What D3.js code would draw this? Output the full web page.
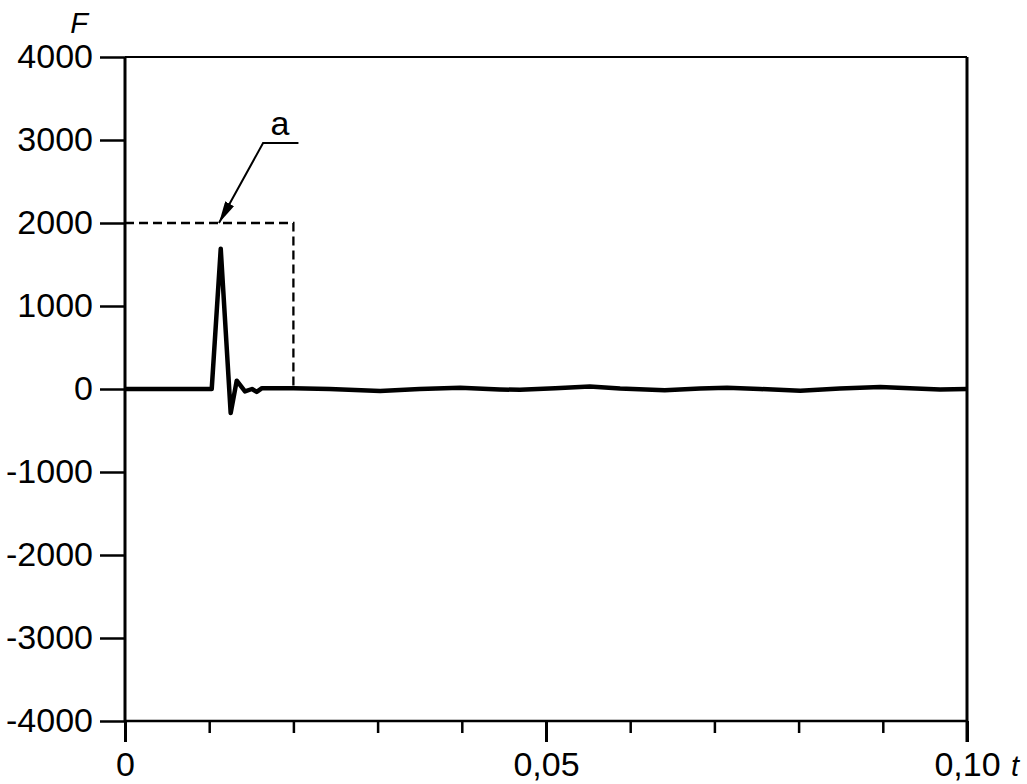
<!DOCTYPE html>
<html>
<head>
<meta charset="utf-8">
<script src="https://cdn.jsdelivr.net/npm/d3@7"></script>
<style>
  body { margin: 0; background: #fff; }
  svg text { font-family: "Liberation Sans", Arial, sans-serif; fill: #000; }
</style>
</head>
<body>
<script>
// force signal F(t)
const tValues = [0, 0.0050, 0.0103, 0.01137, 0.01255, 0.01327, 0.01425, 0.01508, 0.01564, 0.01627,
  0.0200, 0.0243, 0.0303, 0.0350, 0.0398, 0.0445, 0.0469, 0.0511, 0.0552, 0.0588,
  0.0641, 0.0683, 0.0715, 0.0754, 0.0802, 0.0849, 0.0897, 0.0932, 0.0968, 0.1000];
const fValues = [0, 0, 0, 1690, -290, 100, -30, 0, -35, 10,
  10, 0, -25, 0, 15, -5, -10, 10, 30, 5,
  -15, 5, 15, 0, -20, 5, 25, 10, -5, 0];

// dashed limit "a"
const limitT = [0, 0.02, 0.02];
const limitF = [2000, 2000, 0];

// label "a" leader: arrow tip, knee, end
const leaderT = [0.01116, 0.0164, 0.0206];
const leaderF = [2000, 2964, 2964];
const labelA = {t: 0.0184, f: 3060, text: "a"};

const yTicks = [-4000, -3000, -2000, -1000, 0, 1000, 2000, 3000, 4000];
const xMajor = [0, 0.05, 0.10];
const xMajorLabels = ["0", "0,05", "0,10"];
const xMinor = [0.01, 0.02, 0.03, 0.04, 0.06, 0.07, 0.08, 0.09];

const width = 1027, height = 784;

const x = d3.scaleLinear().domain([0, 0.1]).range([125, 967]);
const y = d3.scaleLinear().domain([-4000, 4000]).range([721, 57]);

const svg = d3.select("body")
  .append("svg")
  .attr("width", width)
  .attr("height", height);

svg.append("defs").append("marker")
  .attr("id", "arrow")
  .attr("markerUnits", "userSpaceOnUse")
  .attr("viewBox", "0 0 22 10")
  .attr("refX", 22).attr("refY", 5)
  .attr("markerWidth", 22).attr("markerHeight", 10)
  .attr("orient", "auto")
  .append("path")
  .attr("d", "M0,0 L22,5 L0,10 Z")
  .attr("fill", "#000");

// frame: top and right
svg.append("line")
  .attr("x1", x(0)).attr("x2", x(0.1))
  .attr("y1", y(4000)).attr("y2", y(4000))
  .attr("stroke", "#000").attr("stroke-width", 2);
svg.append("line")
  .attr("x1", x(0.1)).attr("x2", x(0.1))
  .attr("y1", y(4000)).attr("y2", y(-4000) + 21)
  .attr("stroke", "#000").attr("stroke-width", 3);

// y axis
const yAxis = svg.append("g")
  .attr("transform", "translate(" + x(0) + ",0)")
  .call(d3.axisLeft(y).tickValues(yTicks).tickSize(25).tickSizeOuter(0).tickPadding(7)
    .tickFormat(d => String(d)));
yAxis.select(".domain").remove();
yAxis.selectAll(".tick line").attr("stroke", "#000").attr("stroke-width", 2.5);
yAxis.selectAll("text").attr("font-size", 34).attr("font-family", "Liberation Sans, Arial, sans-serif");
svg.append("line")
  .attr("x1", x(0)).attr("x2", x(0))
  .attr("y1", y(4000)).attr("y2", y(-4000))
  .attr("stroke", "#000").attr("stroke-width", 3);

// x axis
const xAxis = svg.append("g")
  .attr("transform", "translate(0," + y(-4000) + ")")
  .call(d3.axisBottom(x).tickValues(xMajor).tickSize(21).tickSizeOuter(0).tickPadding(10)
    .tickFormat((d, i) => xMajorLabels[i]));
xAxis.select(".domain").remove();
xAxis.selectAll(".tick line").attr("stroke", "#000").attr("stroke-width", 3);
xAxis.selectAll("text").attr("font-size", 34).attr("font-family", "Liberation Sans, Arial, sans-serif");

const xMinorAxis = svg.append("g")
  .attr("transform", "translate(0," + y(-4000) + ")")
  .call(d3.axisBottom(x).tickValues(xMinor).tickSize(12).tickSizeOuter(0).tickFormat(""));
xMinorAxis.select(".domain").remove();
xMinorAxis.selectAll(".tick line").attr("stroke", "#000").attr("stroke-width", 2.5);

svg.append("line")
  .attr("x1", x(0)).attr("x2", x(0.1))
  .attr("y1", y(-4000)).attr("y2", y(-4000))
  .attr("stroke", "#000").attr("stroke-width", 2.5);

// axis names
svg.append("text")
  .attr("x", 79).attr("y", 33)
  .attr("text-anchor", "middle")
  .attr("font-size", 29).attr("font-style", "italic")
  .text("F");
svg.append("text")
  .attr("x", x(0.1) + 48).attr("y", 776)
  .attr("text-anchor", "middle")
  .attr("font-size", 29).attr("font-style", "italic")
  .text("t");

// dashed limit
const limitLine = d3.line().x(d => x(d[0])).y(d => y(d[1]));
svg.append("path")
  .datum(d3.zip(limitT, limitF))
  .attr("fill", "none")
  .attr("stroke", "#000")
  .attr("stroke-width", 2.3)
  .attr("stroke-dasharray", "9,5")
  .attr("d", limitLine);

// leader + arrow
svg.append("path")
  .datum(d3.zip(leaderT, leaderF).reverse())
  .attr("fill", "none")
  .attr("stroke", "#000")
  .attr("stroke-width", 2)
  .attr("marker-end", "url(#arrow)")
  .attr("d", limitLine);
svg.append("text")
  .attr("x", x(labelA.t)).attr("y", y(labelA.f))
  .attr("text-anchor", "middle")
  .attr("font-size", 34)
  .text(labelA.text);

// signal
const line = d3.line().x(d => x(d[0])).y(d => y(d[1]));
svg.append("path")
  .datum(d3.zip(tValues, fValues))
  .attr("fill", "none")
  .attr("stroke", "#000")
  .attr("stroke-width", 4.5)
  .attr("stroke-linejoin", "round")
  .attr("d", line);
</script>
</body>
</html>
